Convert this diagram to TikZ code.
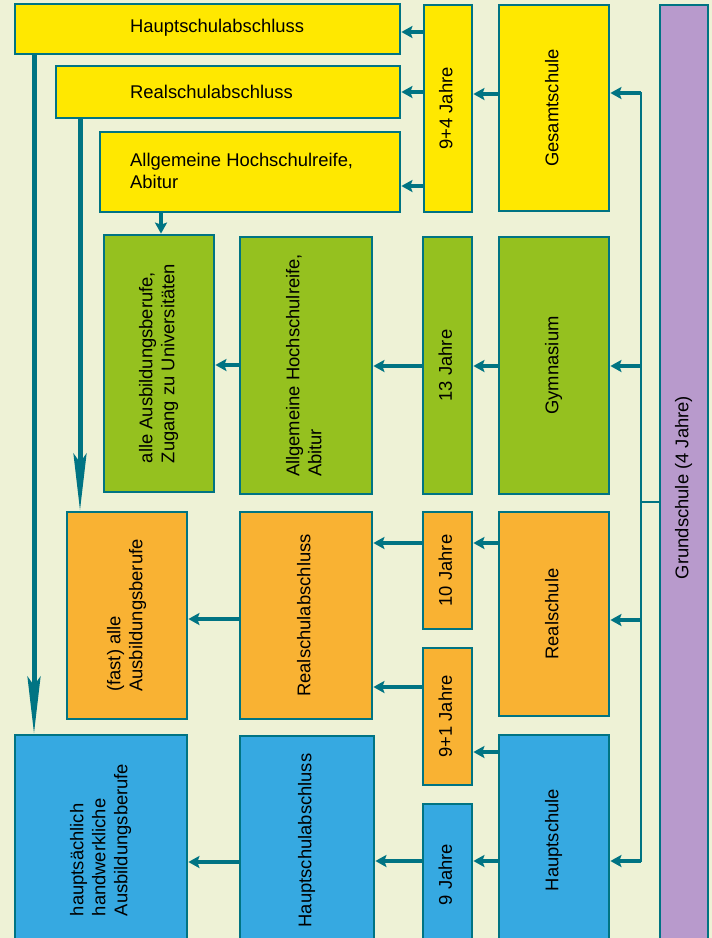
\documentclass[tikz,border=0pt]{standalone}
\usepackage{fontspec}
\setmainfont{Liberation Sans}
\usepackage{graphicx}
\usetikzlibrary{arrows.meta}
\definecolor{bgcream}{RGB}{238,242,214}
\definecolor{schoolteal}{RGB}{0,116,131}
\definecolor{abiyellow}{RGB}{255,232,0}
\definecolor{gymgreen}{RGB}{149,193,31}
\definecolor{realorange}{RGB}{249,178,51}
\definecolor{hauptblue}{RGB}{54,169,225}
\definecolor{grundpurple}{RGB}{184,154,204}
\newcommand{\vtext}[1]{\rotatebox{90}{\begin{tabular}{@{}l@{}}#1\end{tabular}}}

\begin{document}
\begin{tikzpicture}[x=1pt, y=-1pt,
    box/.style={draw=schoolteal, line width=2.8pt, fill=#1, inner sep=0pt},
    arr/.style={draw=schoolteal, line width=4pt, -{Stealth[length=11pt,width=12pt,inset=2pt]}},
    longarr/.style={draw=schoolteal, line width=5pt, -{Stealth[length=57pt,width=13pt,inset=9pt]}},
    link/.style={draw=schoolteal, line width=2.6pt},
    font=\fontsize{18.4}{22}\selectfont]
    \useasboundingbox (0,0) rectangle (712,938);
    \clip (0,0) rectangle (712,938);
    \fill[bgcream] (0,0) rectangle (712,938);

    % Gesamtschule
    \node[box=abiyellow, minimum width=385, minimum height=50] (hsaY) at (207.5,29) {};
    \node[box=abiyellow, minimum width=344, minimum height=52] (rsaY) at (228,92) {};
    \node[box=abiyellow, minimum width=300, minimum height=80] (ahrY) at (250,172) {};
    \node[anchor=west, inner sep=0pt] (hsaYt) at (130,28) {Hauptschulabschluss};
    \node[anchor=west, inner sep=0pt] (rsaYt) at (130,92) {Realschulabschluss};
    \node[anchor=west, inner sep=0pt, align=left] (ahrYt) at (130,171) {Allgemeine Hochschulreife,\\Abitur};
    \node[box=abiyellow, minimum width=48, minimum height=207] (jahre94) at (448,108.5) {\vtext{9+4 Jahre}};
    \node[box=abiyellow, minimum width=110, minimum height=206] (gesamt) at (554,108) {\vtext{Gesamtschule}};

    \node[box=grundpurple, minimum width=48, minimum height=965] (grund) at (684,487.5) {\vtext{Grundschule (4 Jahre)}};

    % Gymnasium
    \node[box=gymgreen, minimum width=110, minimum height=257] (alleG) at (159,363.5) {\vtext{alle Ausbildungsberufe,\\Zugang zu Universit\"aten}};
    \node[box=gymgreen, minimum width=132, minimum height=257] (ahrG) at (306,365.5) {\vtext{Allgemeine Hochschulreife,\\Abitur}};
    \node[box=gymgreen, minimum width=49, minimum height=257] (jahre13) at (447.5,365.5) {\vtext{13 Jahre}};
    \node[box=gymgreen, minimum width=110, minimum height=257] (gymn) at (554,365.5) {\vtext{Gymnasium}};

    % Realschule
    \node[box=realorange, minimum width=120, minimum height=207] (fastO) at (127,615.5) {\vtext{(fast) alle\\Ausbildungsberufe}};
    \node[box=realorange, minimum width=132, minimum height=207] (rsaO) at (306,615.5) {\vtext{Realschulabschluss}};
    \node[box=realorange, minimum width=49, minimum height=117] (jahre10) at (447.5,570.5) {\vtext{10 Jahre}};
    \node[box=realorange, minimum width=49, minimum height=137] (jahre91) at (447.5,716.5) {\vtext{9+1 Jahre}};
    \node[box=realorange, minimum width=110, minimum height=204] (real) at (554,614) {\vtext{Realschule}};

    % Hauptschule
    \node[box=hauptblue, minimum width=172, minimum height=210] (hauptsB) at (101,840) {\vtext{haupts\"achlich\\handwerkliche\\Ausbildungsberufe}};
    \node[box=hauptblue, minimum width=134, minimum height=209] (hsaB) at (307,840.5) {\vtext{Hauptschulabschluss}};
    \node[box=hauptblue, minimum width=49, minimum height=141] (jahre9) at (447.5,874.5) {\vtext{9 Jahre}};
    \node[box=hauptblue, minimum width=110, minimum height=210] (haupt) at (554,840) {\vtext{Hauptschule}};

    \draw[arr] (jahre94.west |- 0,32) -- (hsaY.east |- 0,32);
    \draw[arr] (jahre94.west |- 0,92) -- (rsaY.east |- 0,92);
    \draw[arr] (jahre94.west |- 0,186) -- (ahrY.east |- 0,186);
    \draw[arr] (gesamt.west |- 0,94) -- (jahre94.east |- 0,94);

    \draw[arr] (ahrY.south -| 161,0) -- (alleG.north -| 161,0);
    \draw[arr] (gymn.west |- 0,366) -- (jahre13.east |- 0,366);
    \draw[arr] (jahre13.west |- 0,366) -- (ahrG.east |- 0,366);
    \draw[arr] (ahrG.west |- 0,365) -- (alleG.east |- 0,365);

    \draw[arr] (real.west |- 0,543) -- (jahre10.east |- 0,543);
    \draw[arr] (jahre10.west |- 0,543) -- (rsaO.east |- 0,543);
    \draw[arr] (haupt.west |- 0,752) -- (jahre91.east |- 0,752);
    \draw[arr] (jahre91.west |- 0,687) -- (rsaO.east |- 0,687);
    \draw[arr] (rsaO.west |- 0,619) -- (fastO.east |- 0,619);

    \draw[arr] (haupt.west |- 0,861) -- (jahre9.east |- 0,861);
    \draw[arr] (jahre9.west |- 0,861) -- (hsaB.east |- 0,861);
    \draw[arr] (hsaB.west |- 0,862) -- (hauptsB.east |- 0,862);

    \draw[longarr] (hsaY.south -| 34,0) -- (hauptsB.north -| 34,0);
    \draw[longarr] (rsaY.south -| 80,0) -- (fastO.north -| 80,0);

    % Grundschule to the four school types
    \coordinate (brTop) at (641,93);
    \coordinate (brBot) at (641,861);
    \draw[link, line cap=rect] (brTop) -- (brBot);
    \draw[link] (grund.west |- 0,502) -- (brTop |- 0,502);
    \draw[arr] (brTop) -- (gesamt.east |- brTop);
    \draw[arr] (brTop |- 0,366) -- (gymn.east |- 0,366);
    \draw[arr] (brTop |- 0,620) -- (real.east |- 0,620);
    \draw[arr] (brBot) -- (haupt.east |- brBot);
\end{tikzpicture}
\end{document}
